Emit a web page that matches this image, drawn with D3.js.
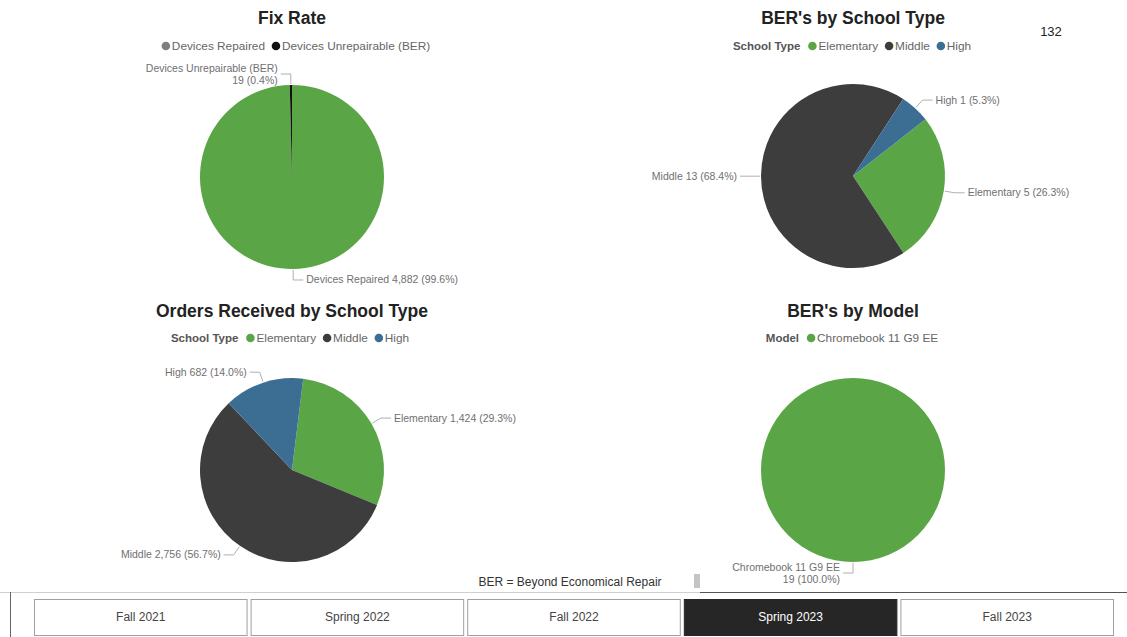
<!DOCTYPE html>
<html>
<head>
<meta charset="utf-8">
<script src="https://cdn.jsdelivr.net/npm/d3@7"></script>
<style>
  html, body { margin: 0; padding: 0; background: #ffffff; }
  svg { display: block; }
</style>
</head>
<body>
<svg id="board" width="1127" height="637"></svg>
<script>
// ---- data ----
const fixCategories = ["Devices Repaired", "Devices Unrepairable (BER)"];
const fixValues = [4882, 19];

const schoolTypes = ["Elementary", "Middle", "High"];
const berBySchoolValues = [5, 13, 1];
const ordersBySchoolValues = [1424, 2756, 682];

const modelCategories = ["Chromebook 11 G9 EE"];
const berByModelValues = [19];

const termLabels = ["Fall 2021", "Spring 2022", "Fall 2022", "Spring 2023", "Fall 2023"];
const activeTerm = "Spring 2023";

const pageNumber = "132";
const footnote = "BER = Beyond Economical Repair";

// ---- palette ----
const GREEN = "#5aa546";
const DARK = "#3d3d3d";
const BLUE = "#3c6e94";

const svg = d3.select("#board");
const fmtNum = d3.format(",");
const fmtPct = d3.format(".1%");

function drawPie(opts) {
  const g = svg.append("g");
  const { cx, cy, r } = opts;

  // title
  g.append("text")
    .attr("x", cx).attr("y", opts.titleY)
    .attr("text-anchor", "middle")
    .attr("font-family", "Liberation Sans, Arial, sans-serif")
    .attr("font-weight", "bold")
    .attr("font-size", 17.5)
    .attr("fill", "#222")
    .text(opts.title);

  // legend
  const lg = g.append("g");
  let x = 0;
  if (opts.legendTitle) {
    const t = lg.append("text")
      .attr("x", x).attr("y", 0)
      .attr("font-family", "Liberation Sans, Arial, sans-serif")
      .attr("font-weight", "bold")
      .attr("font-size", 11.5)
      .attr("fill", "#555")
      .text(opts.legendTitle);
    x += t.node().getComputedTextLength() + 8;
  }
  opts.categories.forEach((c, i) => {
    lg.append("circle")
      .attr("cx", x + 4).attr("cy", -4)
      .attr("r", 4.3)
      .attr("fill", opts.legendColors ? opts.legendColors[i] : opts.colors[i]);
    const t = lg.append("text")
      .attr("x", x + 10).attr("y", 0)
      .attr("font-family", "Liberation Sans, Arial, sans-serif")
      .attr("font-size", 11.8)
      .attr("fill", "#666")
      .text(c);
    x += 10 + t.node().getComputedTextLength() + 7;
  });
  const lw = x - 7;
  lg.attr("transform", `translate(${opts.legendCx - lw / 2},${opts.legendY})`);

  // pie
  const data = opts.categories.map((c, i) => ({ name: c, value: opts.values[i], color: opts.colors[i] }));
  const total = d3.sum(data, d => d.value);
  const a0 = opts.start * Math.PI / 180;
  const pie = d3.pie().sort(null).value(d => d.value)
    .startAngle(a0)
    .endAngle(a0 + 2 * Math.PI);
  const arcs = pie(data);
  const arc = d3.arc().innerRadius(0).outerRadius(r);

  const pg = g.append("g").attr("transform", `translate(${cx},${cy})`);
  pg.selectAll("path").data(arcs).join("path")
    .attr("d", arc)
    .attr("fill", d => d.data.color);

  // labels with leader lines
  arcs.forEach(a => {
    const mid = (a.startAngle + a.endAngle) / 2;
    const left = Math.sin(mid) <= 1e-9;
    const sx = Math.sin(mid), sy = -Math.cos(mid);
    const p0 = [sx * (r + 1), sy * (r + 1)];
    const p1 = [sx * (r + 11), sy * (r + 11)];
    const dir = left ? -1 : 1;
    const p2 = [p1[0] + dir * 10, p1[1]];
    pg.append("polyline")
      .attr("points", [p0, p1, p2].map(p => p.join(",")).join(" "))
      .attr("fill", "none")
      .attr("stroke", "#b0b0b0")
      .attr("stroke-width", 1);
    const valueText = `${fmtNum(a.data.value)} (${fmtPct(a.data.value / total)})`;
    const wrap = left && a.data.name.length > 12;
    const t = pg.append("text")
      .attr("x", p2[0] + dir * 3)
      .attr("y", p2[1])
      .attr("text-anchor", left ? "end" : "start")
      .attr("font-family", "Liberation Sans, Arial, sans-serif")
      .attr("font-size", 10.5)
      .attr("fill", "#707070");
    if (wrap) {
      t.append("tspan").attr("x", p2[0] + dir * 3).attr("dy", -2).text(a.data.name);
      t.append("tspan").attr("x", p2[0] + dir * 3).attr("dy", 11.5).text(valueText);
    } else {
      t.attr("dy", 3.5).text(`${a.data.name} ${valueText}`);
    }
  });
}

drawPie({
  title: "Fix Rate", titleY: 24, cx: 292, cy: 177, r: 92,
  legendCx: 296, legendY: 50,
  categories: fixCategories, values: fixValues,
  colors: [GREEN, "#111111"], legendColors: ["#7f7f7f", "#111111"],
  start: 0
});

drawPie({
  title: "BER's by School Type", titleY: 24, cx: 853, cy: 176, r: 92,
  legendCx: 852, legendY: 50, legendTitle: "School Type",
  categories: schoolTypes, values: berBySchoolValues,
  colors: [GREEN, DARK, BLUE], start: 52
});

drawPie({
  title: "Orders Received by School Type", titleY: 317, cx: 292, cy: 470, r: 92,
  legendCx: 290, legendY: 342, legendTitle: "School Type",
  categories: schoolTypes, values: ordersBySchoolValues,
  colors: [GREEN, DARK, BLUE], start: 7
});

drawPie({
  title: "BER's by Model", titleY: 317, cx: 853, cy: 470, r: 92,
  legendCx: 852, legendY: 342, legendTitle: "Model",
  categories: modelCategories, values: berByModelValues,
  colors: [GREEN], start: 0
});

// page number
svg.append("text")
  .attr("x", 1051).attr("y", 36)
  .attr("text-anchor", "middle")
  .attr("font-family", "Liberation Sans, Arial, sans-serif")
  .attr("font-size", 13)
  .attr("fill", "#222")
  .text(pageNumber);

// footnote
svg.append("text")
  .attr("x", 570).attr("y", 586)
  .attr("text-anchor", "middle")
  .attr("font-family", "Liberation Sans Narrow, Liberation Sans, Arial, sans-serif")
  .attr("font-size", 12)
  .attr("fill", "#333")
  .text(footnote);
svg.append("rect")
  .attr("x", 694).attr("y", 574).attr("width", 6).attr("height", 14)
  .attr("fill", "#c4c4c4");

// separators
svg.append("line").attr("x1", 0).attr("x2", 700).attr("y1", 592.5).attr("y2", 592.5)
  .attr("stroke", "#d0d0d0");
svg.append("line").attr("x1", 700).attr("x2", 1127).attr("y1", 592.5).attr("y2", 592.5)
  .attr("stroke", "#555");
svg.append("line").attr("x1", 10.5).attr("x2", 10.5).attr("y1", 592).attr("y2", 637)
  .attr("stroke", "#666");

// term slicer buttons
const bx = d3.scaleBand().domain(termLabels).range([34, 1114]).paddingInner(0.014);
const btn = svg.append("g").selectAll("g").data(termLabels).join("g")
  .attr("transform", d => `translate(${bx(d)},599)`);
btn.append("rect")
  .attr("x", 0.5).attr("y", 0.5)
  .attr("width", bx.bandwidth() - 1).attr("height", 36)
  .attr("fill", d => d === activeTerm ? "#262626" : "#ffffff")
  .attr("stroke", d => d === activeTerm ? "#262626" : "#a0a0a0");
btn.append("text")
  .attr("x", bx.bandwidth() / 2).attr("y", 22)
  .attr("text-anchor", "middle")
  .attr("font-family", "Liberation Sans Narrow, Liberation Sans, Arial, sans-serif")
  .attr("font-size", 12)
  .attr("fill", d => d === activeTerm ? "#ffffff" : "#444")
  .text(d => d);
</script>
</body>
</html>
